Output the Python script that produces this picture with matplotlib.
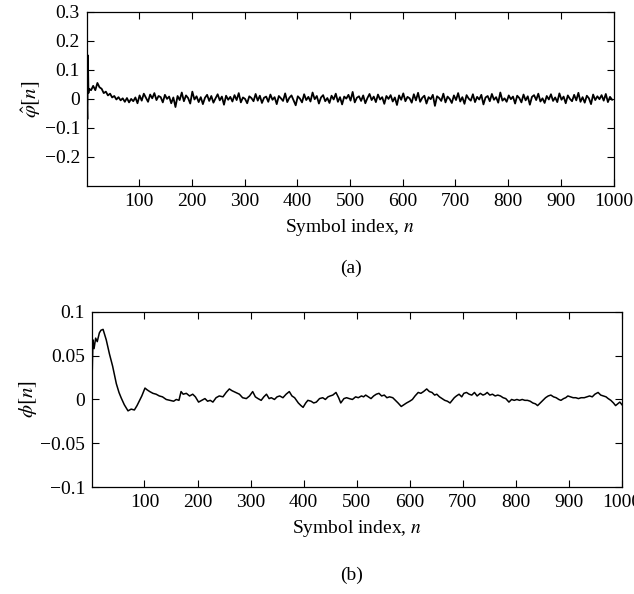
"""Two-panel plot: phase estimate (a) and tracked phase (b) vs symbol index."""
import matplotlib
matplotlib.use("Agg")
import matplotlib.pyplot as plt

plt.rcParams["font.family"] = ["Liberation Serif", "DejaVu Serif"]
plt.rcParams["mathtext.fontset"] = "stix"
plt.rcParams["axes.unicode_minus"] = True

# (a) estimated phase, sampled every 4 symbols after the first few
top_n = [1, 2, 3, 4] + list(range(5, 1001, 4))
top_val = [
    0.0, -0.07, 0.15, 0.02,
    0.035, 0.03, 0.045, 0.03, 0.055, 0.04, 0.035, 0.02, 0.025, 0.012, 0.018, 0.005,
    0.01, -0.002, 0.006, -0.005, 0.002, -0.01, 0.003, -0.012, 0.0, -0.008, 0.005, -0.015,
    0.012, -0.006, 0.018, 0.004, -0.010, 0.015, 0.002, 0.020, -0.004, 0.010, 0.006, -0.012, 0.014, 0.000, 0.008,
    -0.015, 0.005, -0.028, 0.010, -0.004, 0.022, -0.008, 0.012, 0.003, -0.016, 0.025, -0.002, 0.009, -0.011, 0.006,
    -0.018, 0.004, 0.014, -0.007, 0.010, -0.013, 0.002, 0.016, -0.005, 0.008, -0.020, 0.011, -0.003, 0.007, -0.009,
    0.013, -0.004, 0.020, -0.012, 0.005, 0.000, -0.015, 0.009, 0.003, -0.008, 0.017, -0.006, 0.011, -0.014, 0.004,
    0.008, -0.010, 0.015, -0.003, 0.006, -0.018, 0.010, 0.002, -0.007, 0.019, -0.011, 0.004, 0.012, -0.005, -0.022,
    0.009, 0.001, -0.012, 0.016, -0.004, 0.007, -0.009, 0.022, -0.001, 0.010, -0.016, 0.005, 0.013, -0.008, 0.003,
    -0.014, 0.011, -0.002, 0.018, -0.010, 0.006, -0.019, 0.008, 0.001, 0.014, -0.006, 0.024, -0.012, 0.004, 0.009,
    -0.007, 0.012, -0.015, 0.003, 0.017, -0.004, 0.008, -0.011, 0.015, -0.002, 0.006, -0.017, 0.010, 0.000, 0.013,
    -0.009, 0.005, -0.021, 0.012, -0.003, 0.019, -0.008, 0.007, 0.002, -0.013, 0.016, -0.005, 0.021, -0.010, 0.004,
    0.011, -0.016, 0.006, -0.001, 0.014, -0.024, 0.009, 0.003, -0.007, 0.018, -0.012, 0.008, 0.000, -0.014, 0.012,
    -0.004, 0.020, -0.009, 0.006, -0.017, 0.013, 0.001, -0.006, 0.016, -0.011, 0.007, -0.002, 0.014, -0.019, 0.005,
    0.010, -0.008, 0.017, -0.003, 0.006, -0.013, 0.022, -0.006, 0.002, -0.010, 0.012, -0.001, 0.008, -0.016, 0.011,
    0.003, -0.012, 0.015, -0.005, 0.009, -0.020, 0.007, 0.013, -0.004, 0.018, -0.009, 0.002, -0.014, 0.010, -0.002,
    0.016, -0.007, 0.005, -0.011, 0.019, -0.003, 0.008, -0.015, 0.012, 0.000, -0.008, 0.014, -0.005, 0.021, -0.010,
    0.006, -0.013, 0.011, 0.002, -0.018, 0.015, -0.004, 0.009, -0.001, 0.013, -0.006, 0.017, -0.011, 0.007, -0.003,
]

# (b) tracked phase
phi_n = [1, 2, 3, 5, 8, 11, 15, 18, 22, 28, 34, 40, 47, 52, 56, 62, 69, 75, 81, 86,
         90, 95, 101, 105, 110, 116, 122, 128, 134, 141, 148, 155, 160, 165, 169, 173, 179, 185, 191, 196,
         202, 208, 214, 219, 224, 229, 235, 241, 248, 254, 260, 265, 272, 279, 285, 292, 298, 304, 309, 314,
         320, 325, 330, 335, 339, 345, 350, 355, 361, 367, 373, 378, 383, 390, 395, 399, 404, 408, 414, 419,
         424, 430, 436, 441, 446, 450, 455, 461, 466, 470, 476, 481, 486, 492, 498, 503, 509, 513, 517, 522,
         527, 532, 537, 542, 547, 552, 557, 562, 568, 573, 578, 584, 589, 594, 600, 605, 610, 616, 621, 626,
         632, 637, 642, 647, 651, 656, 661, 666, 671, 676, 680, 684, 688, 693, 698, 702, 707, 712, 717, 722,
         727, 733, 738, 742, 746, 751, 756, 761, 766, 771, 776, 781, 787, 792, 797, 802, 807, 812, 817, 822,
         827, 832, 837, 841, 846, 851, 856, 861, 866, 871, 876, 881, 885, 890, 894, 898, 903, 908, 913, 918,
         923, 929, 934, 939, 944, 949, 955, 960, 965, 970, 974, 979, 984, 988, 992, 996, 1000]
phi_val = [0.015, 0.045, 0.068, 0.058, 0.07, 0.066, 0.076, 0.079, 0.08, 0.068, 0.052, 0.038, 0.018, 0.008, 0.002, -0.006, -0.013, -0.011, -0.012, -0.007,
           -0.002, 0.004, 0.013, 0.011, 0.009, 0.007, 0.006, 0.004, 0.003, 0.0, -0.001, -0.002, 0.0, -0.001, 0.009, 0.006, 0.007, 0.004, 0.006, 0.003,
           -0.003, -0.001, 0.001, -0.002, -0.001, -0.003, 0.002, 0.004, 0.003, 0.008, 0.012, 0.01, 0.008, 0.006, 0.002, 0.001, 0.004, 0.009, 0.003, 0.001,
           -0.001, 0.003, 0.006, 0.001, 0.002, 0.0, 0.003, 0.004, 0.002, 0.006, 0.009, 0.004, 0.002, -0.004, -0.007, -0.009, -0.004, -0.001, -0.002, -0.004,
           -0.003, 0.001, 0.002, 0.0, 0.003, 0.004, 0.005, 0.008, 0.002, -0.004, 0.001, 0.002, 0.001, 0.0, 0.003, 0.002, 0.004, 0.003, 0.005, 0.003,
           0.001, 0.004, 0.006, 0.007, 0.004, 0.005, 0.002, 0.003, 0.002, -0.001, -0.004, -0.008, -0.006, -0.004, -0.002, 0.0, 0.004, 0.008, 0.007, 0.009,
           0.012, 0.009, 0.008, 0.005, 0.006, 0.003, 0.001, -0.001, -0.002, -0.004, -0.001, 0.002, 0.004, 0.006, 0.003, 0.007, 0.008, 0.006, 0.005, 0.008,
           0.004, 0.007, 0.005, 0.006, 0.008, 0.005, 0.006, 0.004, 0.005, 0.004, 0.002, 0.001, -0.003, 0.0, -0.001, 0.0, -0.001, 0.0, -0.001, -0.001,
           -0.002, -0.004, -0.005, -0.007, -0.004, -0.001, 0.002, 0.004, 0.005, 0.003, 0.002, 0.0, -0.001, 0.001, 0.002, 0.004, 0.003, 0.002, 0.002, 0.001,
           0.002, 0.002, 0.003, 0.004, 0.003, 0.006, 0.008, 0.005, 0.004, 0.003, 0.001, -0.001, -0.004, -0.007, -0.005, -0.003, -0.006]
assert len(top_n) == len(top_val) and len(phi_n) == len(phi_val)

x_ticks = [100, 200, 300, 400, 500, 600, 700, 800, 900, 1000]
top_yticks = [-0.2, -0.1, 0, 0.1, 0.2, 0.3]
top_ylabels = ["\u22120.2", "\u22120.1", "0", "0.1", "0.2", "0.3"]
bot_yticks = [-0.1, -0.05, 0, 0.05, 0.1]
bot_ylabels = ["\u22120.1", "\u22120.05", "0", "0.05", "0.1"]

fig = plt.figure(figsize=(6.34, 5.94), dpi=100)
ax1 = fig.add_axes([0.137, 0.687, 0.831, 0.293])
ax2 = fig.add_axes([0.145, 0.180, 0.836, 0.295])

ax1.plot(top_n, top_val, color="black", lw=1.3)
ax1.set_xlim(1, 1000)
ax1.set_ylim(-0.3, 0.3)
ax1.set_yticks(top_yticks)
ax1.set_yticklabels(top_ylabels)
ax1.set_ylabel(r"$\hat{\varphi}[n]$", fontsize=15, labelpad=1)

ax2.plot(phi_n, phi_val, color="black", lw=1.1)
ax2.set_xlim(1, 1000)
ax2.set_ylim(-0.1, 0.1)
ax2.set_yticks(bot_yticks)
ax2.set_yticklabels(bot_ylabels)
ax2.set_ylabel(r"$\phi[n]$", fontsize=15, labelpad=1)

for ax in (ax1, ax2):
    ax.set_xticks(x_ticks)
    ax.tick_params(direction="in", top=True, right=True, length=5, width=0.8,
                   labelsize=14, pad=5)
    ax.set_xlabel("Symbol index, $n$", fontsize=14, labelpad=5)
    for s in ax.spines.values():
        s.set_linewidth(0.9)

fig.text(0.553, 0.549, "(a)", ha="center", va="center", fontsize=14)
fig.text(0.555, 0.032, "(b)", ha="center", va="center", fontsize=14)

fig.savefig("out.png", dpi=100)
